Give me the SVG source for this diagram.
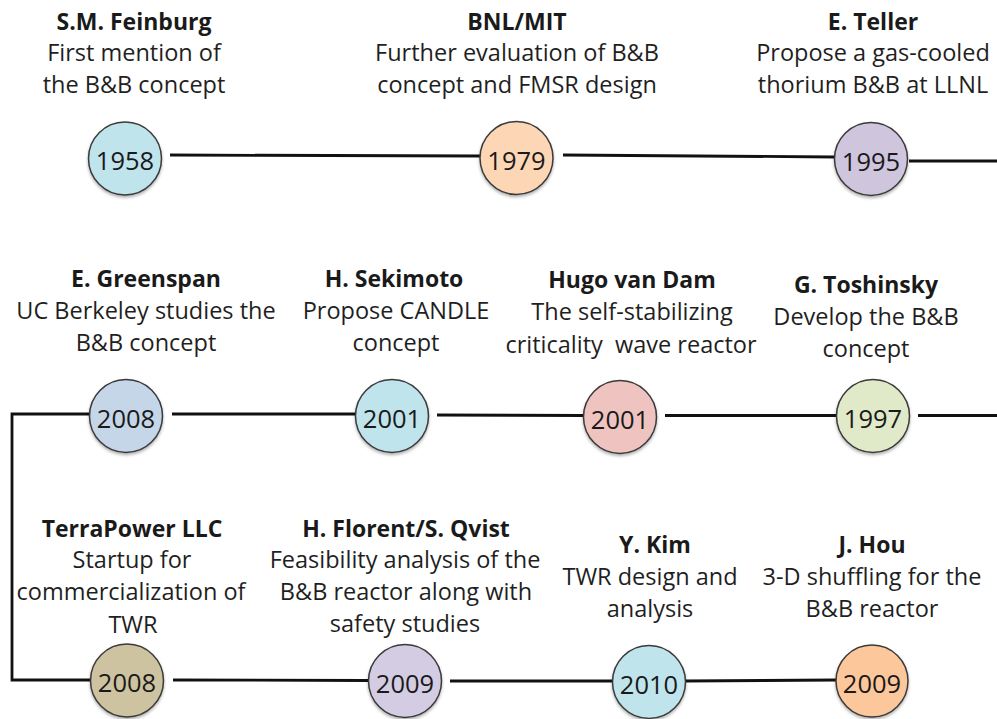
<svg xmlns="http://www.w3.org/2000/svg" width="997" height="719" viewBox="0 0 997 719">
<defs>
<style>
.bg{fill:#ffffff}
.conn{fill:none;stroke:#111111;stroke-width:2.8;stroke-linecap:butt}
.dot{stroke:#3a3a3a;stroke-width:1.5;filter:url(#sh)}
.yr{font-family:"Open Sans","Liberation Sans",sans-serif;font-size:25.5px;fill:#1a1a1a;text-anchor:middle}
.tt{font-family:"Open Sans","Liberation Sans",sans-serif;font-size:23px;font-weight:bold;fill:#1a1a1a;text-anchor:middle}
.tx{font-family:"Open Sans","Liberation Sans",sans-serif;font-size:23.5px;fill:#1f1f1f;text-anchor:middle}
</style>
<filter id="sh" x="-20%" y="-20%" width="140%" height="150%">
<feDropShadow dx="0" dy="2" stdDeviation="1.5" flood-color="#000000" flood-opacity="0.3"/>
</filter>
</defs>
<rect class="bg" x="0" y="0" width="997" height="719"/>
<g id="connectors">
<path class="conn" d="M170,155 L480,156"/>
<path class="conn" d="M563,155 L834,157"/>
<path class="conn" d="M909,161 L997,161"/>
<path class="conn" d="M89,414 H12 V680 H90"/>
<path class="conn" d="M172,414 L355,414"/>
<path class="conn" d="M437,415 L583,415.5"/>
<path class="conn" d="M665,415.5 L837,415.5"/>
<path class="conn" d="M918,415.5 L997,415.5"/>
<path class="conn" d="M173,680 L368,680.5"/>
<path class="conn" d="M450,681 L613,681"/>
<path class="conn" d="M685,681 L836,680"/>
</g>
<g id="n1958">
<circle class="dot" cx="125" cy="158.5" r="36.5" fill="#bfe4ec"/>
<text class="yr" x="125" y="170">1958</text>
<text class="tt" x="134" y="30">S.M. Feinburg</text>
<text class="tx" x="134" y="61">First mention of</text>
<text class="tx" x="134" y="93">the B&amp;B concept</text>
</g>
<g id="n1979">
<circle class="dot" cx="516.5" cy="158" r="36.5" fill="#fcd6b5"/>
<text class="yr" x="516.5" y="170">1979</text>
<text class="tt" x="517" y="30">BNL/MIT</text>
<text class="tx" x="517" y="61">Further evaluation of B&amp;B</text>
<text class="tx" x="517" y="93">concept and FMSR design</text>
</g>
<g id="n1995">
<circle class="dot" cx="871" cy="159" r="36.5" fill="#cfc6de"/>
<text class="yr" x="871" y="171">1995</text>
<text class="tt" x="873" y="30">E. Teller</text>
<text class="tx" x="873" y="61">Propose a gas-cooled</text>
<text class="tx" x="873" y="93">thorium B&amp;B at LLNL</text>
</g>
<g id="n2008a">
<circle class="dot" cx="126" cy="416" r="36.5" fill="#c4d6e8"/>
<text class="yr" x="126" y="428">2008</text>
<text class="tt" x="146" y="287">E. Greenspan</text>
<text class="tx" x="146" y="319">UC Berkeley studies the</text>
<text class="tx" x="146" y="351">B&amp;B concept</text>
</g>
<g id="n2001a">
<circle class="dot" cx="392" cy="416" r="36.5" fill="#bfe4ec"/>
<text class="yr" x="392" y="428">2001</text>
<text class="tt" x="394" y="287">H. Sekimoto</text>
<text class="tx" x="396" y="319">Propose CANDLE</text>
<text class="tx" x="396" y="351">concept</text>
</g>
<g id="n2001b">
<circle class="dot" cx="620" cy="417" r="36.5" fill="#efc4c0"/>
<text class="yr" x="620" y="429">2001</text>
<text class="tt" x="632" y="288">Hugo van Dam</text>
<text class="tx" x="632" y="320">The self-stabilizing</text>
<text class="tx" x="631" y="353" xml:space="preserve">criticality  wave reactor</text>
</g>
<g id="n1997">
<circle class="dot" cx="873" cy="416" r="36.5" fill="#e0e9c8"/>
<text class="yr" x="873" y="428">1997</text>
<text class="tt" x="866" y="293">G. Toshinsky</text>
<text class="tx" x="866" y="325">Develop the B&amp;B</text>
<text class="tx" x="866" y="357">concept</text>
</g>
<g id="n2008b">
<circle class="dot" cx="127" cy="680.5" r="36.5" fill="#cdc3a0"/>
<text class="yr" x="127" y="692">2008</text>
<text class="tt" x="132" y="537">TerraPower LLC</text>
<text class="tx" x="132" y="568">Startup for</text>
<text class="tx" x="131" y="600">commercialization of</text>
<text class="tx" x="133" y="633">TWR</text>
</g>
<g id="n2009a">
<circle class="dot" cx="405" cy="681" r="36.5" fill="#d3cce3"/>
<text class="yr" x="405" y="693">2009</text>
<text class="tt" x="406" y="537">H. Florent/S. Qvist</text>
<text class="tx" x="405" y="568">Feasibility analysis of the</text>
<text class="tx" x="406" y="600">B&amp;B reactor along with</text>
<text class="tx" x="405" y="632">safety studies</text>
</g>
<g id="n2010">
<circle class="dot" cx="649" cy="682" r="36.5" fill="#bfe4ec"/>
<text class="yr" x="649" y="694">2010</text>
<text class="tt" x="655" y="553">Y. Kim</text>
<text class="tx" x="650" y="585">TWR design and</text>
<text class="tx" x="650" y="617">analysis</text>
</g>
<g id="n2009b">
<circle class="dot" cx="872" cy="681" r="36" fill="#fcc89b"/>
<text class="yr" x="872" y="693">2009</text>
<text class="tt" x="872" y="553">J. Hou</text>
<text class="tx" x="872" y="585">3-D shuffling for the</text>
<text class="tx" x="872" y="617">B&amp;B reactor</text>
</g>
</svg>
